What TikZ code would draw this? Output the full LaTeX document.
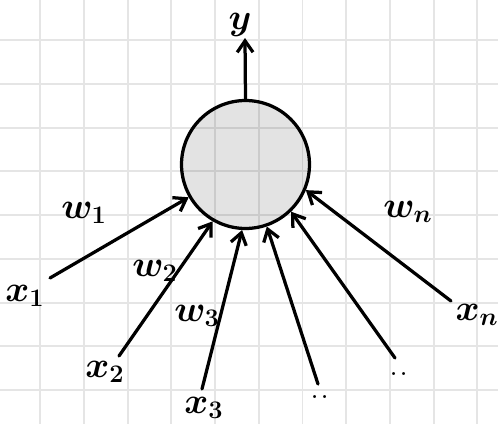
\documentclass[tikz,border=0pt]{standalone}
\usepackage{tikz}
\usetikzlibrary{arrows.meta,positioning}

\begin{document}
\begin{tikzpicture}[
    x=0.02cm, y=0.02cm,
    font=\huge\boldmath,
    >={Straight Barb[length=6.5pt,width=9pt]},
    gridline/.style={draw=black!10, line width=0.04cm},
    neuronbody/.style={circle, draw=black, line width=0.065cm, fill=black, fill opacity=0.11, text opacity=1, minimum size=2.56cm, inner sep=0pt},
    wire/.style={->, line width=0.065cm, line cap=round},
    lbl/.style={inner sep=0pt}
]

    \useasboundingbox (0,0) rectangle (498,424);
    \fill[white] (0,0) rectangle (498,424);

    % background grid
    \foreach \k in {0,...,10} {
        \draw[gridline] (40.3+43.7*\k, 0) -- (40.3+43.7*\k, 424);
    }
    \foreach \k in {0,...,8} {
        \draw[gridline] (0, 383.7-43.7*\k) -- (498, 383.7-43.7*\k);
    }

    \node[neuronbody] (neuron) at (245.5,259.5) {};

    \coordinate (in1) at (50,146);
    \coordinate (in2) at (119,68);
    \coordinate (in3) at (202,35);
    \coordinate (in4) at (318,40);
    \coordinate (in5) at (395,66);
    \coordinate (inn) at (451,123);
    \coordinate (out) at (245,386);

    \draw[wire] (in1) -- (neuron.-150);
    \draw[wire] (in2) -- (neuron.-120);
    \draw[wire] (in3) -- (neuron.-93);
    \draw[wire] (in4) -- (neuron.-71);
    \draw[wire] (in5) -- (neuron.-46);
    \draw[wire] (inn) -- (neuron.-23);
    \draw[wire] (neuron.north) -- (out);

    \node[lbl] (ly) at (240,399) {$y$};

    \node[lbl] (lx1) at (25,128) {$x_1$};
    \node[lbl] (lx2) at (105,52) {$x_2$};
    \node[lbl] (lx3) at (204,16) {$x_3$};
    \node[lbl] (ld1) at (320,27) {..};
    \node[lbl] (ld2) at (399,50) {..};
    \node[lbl] (lxn) at (477,109) {$x_n$};

    \node[lbl] (lw1) at (84,211) {$w_1$};
    \node[lbl] (lw2) at (155,153) {$w_2$};
    \node[lbl] (lw3) at (197,108) {$w_3$};
    \node[lbl] (lwn) at (408,212) {$w_n$};

\end{tikzpicture}
\end{document}
